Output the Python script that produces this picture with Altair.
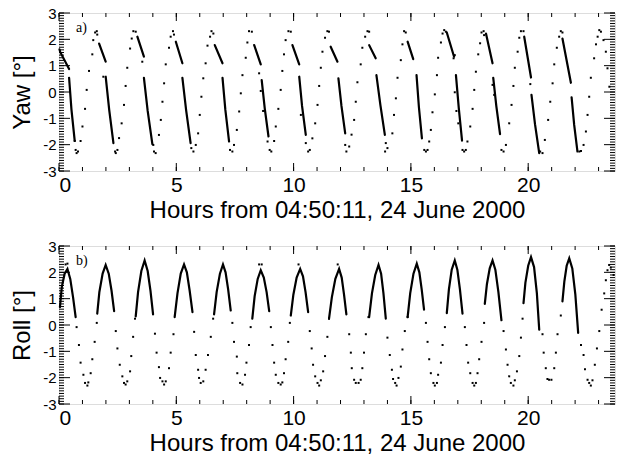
import altair as alt
import pandas as pd

# ---------------- data ----------------
X_DOMAIN = [0, 23.7]
Y_DOMAIN = [-3, 3]
x_major = [0, 5, 10, 15, 20]
x_minor = list(range(0, 24))
y_major = [-3, -2, -1, 0, 1, 2, 3]
y_minor = [round(-3 + 0.1 * i, 1) for i in range(61)]
x_title = "Hours from 04:50:11, 24 June 2000"

# Yaw: dense segments (upper and lower part of each cycle)
yaw_segments = [
    [(0.02, 1.62), (0.05, 1.52), (0.43, 0.87)],
    [(0.43, 0.54), (0.53, -0.66), (0.67, -1.86)],
    [(1.71, 1.84), (1.99, 1.15)],
    [(1.99, 0.58), (2.14, -0.68), (2.32, -1.94)],
    [(3.34, 2.10), (3.62, 1.34)],
    [(3.62, 0.54), (3.78, -0.72), (3.98, -1.98)],
    [(4.98, 1.91), (5.26, 1.09)],
    [(5.26, 0.54), (5.42, -0.70), (5.61, -1.94)],
    [(6.64, 1.78), (6.97, 1.09)],
    [(6.97, 0.54), (7.09, -0.67), (7.25, -1.88)],
    [(8.32, 1.78), (8.60, 1.05)],
    [(8.64, 0.45), (8.77, -0.62), (8.93, -1.69)],
    [(9.95, 1.78), (10.24, 1.05)],
    [(10.24, 0.58), (10.36, -0.53), (10.52, -1.63)],
    [(11.58, 1.72), (11.87, 1.15)],
    [(11.91, 0.52), (12.04, -0.53), (12.20, -1.57)],
    [(13.22, 1.78), (13.50, 1.28)],
    [(13.53, 0.64), (13.70, -0.50), (13.89, -1.63)],
    [(14.86, 1.91), (15.10, 1.25)],
    [(15.24, 0.64), (15.34, -0.56), (15.47, -1.76)],
    [(16.53, 2.26), (16.84, 1.34)],
    [(16.92, 0.64), (17.04, -0.60), (17.18, -1.85)],
    [(18.20, 2.22), (18.48, 1.09)],
    [(18.51, 0.54), (18.64, -0.53), (18.80, -1.60)],
    [(19.83, 2.10), (20.12, 0.55)],
    [(20.14, -0.11), (20.29, -1.22), (20.47, -2.32)],
    [(21.46, 2.03), (21.82, 0.35)],
    [(21.85, -0.20), (21.96, -1.25), (22.10, -2.26)],
]

# Yaw: isolated samples
yaw_dots = [
    (0.67, -1.86), (0.92, -1.86), (0.71, -2.20), (0.81, -2.26), (0.75, -2.32),
    (1.00, -1.31), (1.11, -0.64), (1.18, 0.08), (1.28, 0.80), (1.42, 1.43),
    (1.46, 1.97), (1.54, 2.26), (1.61, 2.31), (1.63, 2.18),
    (1.89, 0.58), (2.39, -2.26), (2.49, -2.20), (2.42, -2.32), (2.56, -1.75),
    (2.67, -1.19), (2.77, -0.49), (2.84, 0.23), (2.91, 0.92), (3.03, 1.65),
    (3.10, 2.03), (3.17, 2.31), (3.27, 2.29),
    (3.55, 1.15), (4.02, -2.01), (4.05, -2.26), (4.12, -2.32), (4.26, -1.63),
    (4.34, -1.06), (4.41, -0.37), (4.48, 0.33), (4.55, 1.05), (4.69, 1.68),
    (4.76, 2.10), (4.86, 2.31), (4.90, 2.18),
    (5.64, -2.13), (5.73, -2.26), (5.83, -2.01), (5.93, -1.57), (6.00, -0.87),
    (6.07, -0.18), (6.15, 0.52), (6.25, 1.09), (6.33, 1.76), (6.44, 2.10),
    (6.50, 2.31), (6.58, 2.22),
    (7.29, -2.20), (7.39, -2.26), (7.46, -2.01), (7.58, -1.44), (7.68, -0.74),
    (7.75, -0.05), (7.82, 0.64), (7.96, 1.30), (8.03, 1.88), (8.10, 2.31),
    (8.22, 2.29),
    (8.53, 0.71), (8.60, 0.04), (8.70, -0.72), (8.89, -1.88), (8.98, -2.20),
    (9.05, -2.26), (9.17, -1.86), (9.24, -1.31), (9.35, -0.64), (9.45, 0.08),
    (9.52, 0.80), (9.59, 1.43), (9.66, 1.97), (9.78, 2.31), (9.88, 2.29),
    (10.31, -0.87), (10.52, -1.94), (10.62, -2.26), (10.69, -2.20), (10.80, -1.76),
    (10.92, -1.19), (11.02, -0.49), (11.09, 0.23), (11.16, 0.92), (11.23, 1.53),
    (11.34, 2.06), (11.44, 2.31), (11.51, 2.29),
    (12.20, -2.01), (12.25, -2.26), (12.37, -2.07), (12.47, -1.62), (12.58, -1.06),
    (12.65, -0.37), (12.72, 0.37), (12.86, 1.05), (12.93, 1.68), (13.05, 2.10),
    (13.15, 2.31), (13.22, 2.29),
    (13.93, -1.94), (13.90, -2.26), (14.00, -2.13), (14.21, -1.57), (14.28, -0.87),
    (14.36, -0.24), (14.43, 0.54), (14.57, 1.21), (14.64, 1.81), (14.71, 2.31),
    (14.78, 2.26),
    (15.57, -2.20), (15.64, -2.26), (15.71, -2.20), (15.78, -1.88), (15.85, -1.44),
    (15.92, -0.77), (16.02, -0.09), (16.11, 0.64), (16.16, 1.30), (16.28, 1.88),
    (16.35, 2.22), (16.42, 2.35), (16.49, 2.29),
    (16.87, 1.40), (16.82, 1.28), (16.87, -0.01), (16.94, -0.72), (17.02, -1.19),
    (17.20, -2.20), (17.27, -2.26), (17.34, -2.20), (17.41, -1.88), (17.53, -1.31),
    (17.63, -0.64), (17.70, 0.08), (17.77, 0.77), (17.87, 1.43), (17.95, 1.85),
    (18.01, 2.26), (18.10, 2.31), (18.12, 2.16),
    (18.48, 0.27), (18.55, -0.11), (18.86, -2.20), (18.95, -2.26), (19.05, -2.01),
    (19.19, -1.19), (19.29, -0.49), (19.37, 0.23), (19.43, 0.92), (19.55, 1.53),
    (19.62, 2.06), (19.69, 2.31), (19.80, 2.31),
    (20.09, 0.30), (20.51, -2.26), (20.61, -2.32), (20.71, -1.82), (20.85, -1.06),
    (20.94, -0.37), (21.04, 0.33), (21.11, 1.05), (21.22, 1.68), (21.32, 2.10),
    (21.39, 2.31), (21.46, 2.26),
    (22.18, -2.26), (22.25, -2.24), (22.36, -2.01), (22.46, -1.50), (22.53, -0.87),
    (22.60, -0.18), (22.67, 0.54), (22.81, 1.28), (22.89, 1.81), (22.96, 2.10),
    (23.03, 2.35), (23.10, 2.29),
    (23.21, 1.97), (23.31, 1.53), (23.38, 0.90), (23.46, 0.20),
]

# Roll: dense arcs
roll_segments = [
    [(0.04, 0.68), (0.12, 1.45), (0.24, 1.95), (0.36, 2.13), (0.48, 1.75), (0.60, 1.05), (0.71, 0.30)],
    [(1.63, 0.43), (1.72, 1.25), (1.86, 1.95), (1.99, 2.28), (2.12, 1.95), (2.24, 1.30), (2.35, 0.53)],
    [(3.27, 0.33), (3.37, 1.25), (3.51, 2.05), (3.65, 2.45), (3.78, 2.05), (3.90, 1.30), (4.01, 0.40)],
    [(4.93, 0.30), (5.05, 1.20), (5.19, 1.95), (5.33, 2.30), (5.45, 2.00), (5.57, 1.30), (5.69, 0.49)],
    [(6.61, 0.40), (6.72, 1.25), (6.86, 1.95), (6.99, 2.30), (7.10, 2.00), (7.21, 1.35), (7.32, 0.55)],
    [(8.24, 0.24), (8.34, 1.10), (8.47, 1.75), (8.60, 2.08), (8.73, 1.80), (8.85, 1.25), (8.96, 0.53)],
    [(9.88, 0.36), (9.99, 1.15), (10.13, 1.80), (10.28, 2.13), (10.40, 1.85), (10.51, 1.25), (10.62, 0.49)],
    [(11.51, 0.24), (11.63, 1.05), (11.78, 1.75), (11.94, 2.13), (12.05, 1.80), (12.15, 1.15), (12.25, 0.40)],
    [(13.22, 0.30), (13.34, 1.20), (13.48, 1.90), (13.62, 2.28), (13.73, 1.95), (13.83, 1.20), (13.93, 0.24)],
    [(14.86, 0.30), (14.97, 1.20), (15.11, 1.95), (15.25, 2.33), (15.36, 2.00), (15.46, 1.35), (15.56, 0.58)],
    [(16.53, 0.45), (16.62, 1.35), (16.74, 2.10), (16.87, 2.45), (16.98, 2.10), (17.09, 1.35), (17.20, 0.43)],
    [(18.15, 0.80), (18.24, 1.55), (18.36, 2.15), (18.48, 2.45), (18.60, 2.10), (18.73, 1.25), (18.86, 0.18)],
    [(19.80, 0.83), (19.88, 1.60), (20.00, 2.25), (20.12, 2.58), (20.25, 2.20), (20.37, 1.20), (20.47, -0.18)],
    [(21.46, 0.90), (21.54, 1.65), (21.64, 2.25), (21.75, 2.53), (21.88, 2.15), (22.01, 1.15), (22.13, -0.30)],
]

# Roll: isolated samples
roll_dots = [
    (0.28, 2.30), (0.36, 2.33), (0.75, -0.08), (0.85, -0.76), (0.92, -1.43),
    (1.04, -1.89), (1.11, -2.20), (1.21, -2.30), (1.25, -2.18), (1.35, -1.83),
    (1.42, -1.30), (1.52, -0.64), (1.61, 0.08),
    (2.42, -0.23), (2.49, -0.89), (2.59, -1.51), (2.70, -1.95), (2.77, -2.20),
    (2.84, -2.26), (2.91, -2.14), (3.03, -1.76), (3.08, -1.18), (3.16, -0.45),
    (3.24, 0.24),
    (4.09, -0.33), (4.16, -1.05), (4.26, -1.60), (4.31, -2.01), (4.41, -2.14),
    (4.48, -2.26), (4.55, -2.14), (4.69, -1.64), (4.76, -1.05), (4.88, -0.35),
    (5.76, -0.26), (5.83, -1.14), (5.93, -1.70), (5.97, -2.01), (6.04, -2.20),
    (6.15, -2.14), (6.25, -1.70), (6.35, -1.14), (6.47, -0.45), (6.57, 0.24),
    (7.39, 0.08), (7.46, -0.64), (7.58, -1.20), (7.60, -1.83), (7.72, -2.20),
    (7.82, -2.26), (7.93, -1.89), (7.99, -1.43), (8.10, -0.76), (8.17, -0.08),
    (8.53, 2.30), (8.64, 2.30), (9.03, -0.08), (9.10, -0.76), (9.17, -1.43),
    (9.24, -1.89), (9.35, -2.20), (9.45, -2.26), (9.52, -2.18), (9.59, -1.83),
    (9.66, -1.30), (9.77, -0.64), (9.84, 0.08),
    (10.21, 2.30), (10.69, -0.23), (10.77, -0.89), (10.83, -1.51), (10.92, -1.95),
    (11.02, -2.20), (11.09, -2.30), (11.16, -2.10), (11.26, -1.76), (11.34, -1.18),
    (11.44, -0.45), (11.51, 0.24),
    (11.88, 2.30), (12.37, -0.35), (12.44, -1.05), (12.48, -1.64), (12.58, -2.08),
    (12.65, -2.20), (12.77, -2.20), (12.86, -2.08), (12.93, -1.64), (13.00, -1.05),
    (13.08, -0.35), (13.19, 0.30),
    (14.00, -0.48), (14.10, -1.14), (14.19, -1.70), (14.24, -2.05), (14.33, -2.20),
    (14.39, -2.30), (14.47, -2.01), (14.57, -1.58), (14.64, -0.93), (14.74, -0.23),
    (14.86, 0.30),
    (15.64, 0.08), (15.71, -0.64), (15.78, -1.30), (15.85, -1.83), (15.96, -2.20),
    (16.02, -2.30), (16.11, -2.20), (16.16, -1.89), (16.28, -1.43), (16.35, -0.76),
    (16.45, -0.08),
    (17.30, -0.08), (17.37, -0.76), (17.44, -1.43), (17.53, -1.83), (17.63, -2.20),
    (17.70, -2.30), (17.77, -2.20), (17.84, -1.83), (17.91, -1.30), (18.01, -0.64),
    (18.12, 0.08),
    (18.95, -0.23), (19.05, -0.93), (19.12, -1.51), (19.19, -1.95), (19.26, -2.20),
    (19.37, -2.30), (19.43, -2.10), (19.52, -1.76), (19.62, -1.18), (19.69, -0.48),
    (19.76, 0.24),
    (20.61, -0.35), (20.66, -1.05), (20.75, -1.64), (20.82, -2.05), (20.89, -2.08),
    (20.99, -2.08), (21.11, -1.64), (21.18, -1.05), (21.25, -0.35), (21.39, 0.36),
    (22.25, -0.76), (22.36, -1.14), (22.42, -1.68), (22.53, -2.08), (22.60, -2.20),
    (22.67, -2.30), (22.74, -2.10), (22.84, -1.51), (22.93, -0.89), (23.03, -0.23),
    (23.13, 0.58), (23.24, 1.20), (23.31, 1.70), (23.38, 2.08), (23.45, 2.28),
    (23.52, 2.18), (23.64, 1.90),
]

# ---------------- chart ----------------
W, H = 556, 158
FONT = "Liberation Sans"


def seg_frame(segs):
    rows = []
    for sid, seg in enumerate(segs):
        for i, (x, y) in enumerate(seg):
            rows.append({"seg": sid, "i": i, "x": x, "y": y})
    return pd.DataFrame(rows)


def dot_frame(dots):
    return pd.DataFrame(dots, columns=["x", "y"])


def panel(dots, segs, ytitle, tag):
    xs = alt.Scale(domain=X_DOMAIN, nice=False, zero=False)
    ys = alt.Scale(domain=Y_DOMAIN, nice=False, zero=False)
    xaxis = alt.Axis(values=x_major, labelExpr="'' + datum.value", ticks=False, domain=False, grid=False,
                     labelFontSize=21, labelPadding=3, labelFont=FONT, labelColor="black",
                     title=x_title, titleFontSize=24, titleFont=FONT, titleFontWeight="normal",
                     titleColor="black", titlePadding=3)
    yaxis = alt.Axis(values=y_major, labelExpr="'' + datum.value", ticks=False, domain=False, grid=False,
                     labelFontSize=15, labelPadding=3, labelFont=FONT, labelColor="black",
                     title=ytitle, titleFontSize=24, titleFont=FONT, titleFontWeight="normal",
                     titleColor="black", titlePadding=8)
    X = lambda f: alt.X(f, scale=xs, axis=xaxis, title=x_title)
    Y = lambda f: alt.Y(f, scale=ys, axis=yaxis, title=ytitle)

    pts = alt.Chart(dot_frame(dots)).mark_square(size=4, color="black", opacity=1).encode(
        x=X("x:Q"), y=Y("y:Q"),
    )
    lines = alt.Chart(seg_frame(segs)).mark_line(color="black", strokeWidth=2.2, strokeCap="round").encode(
        x=X("x:Q"), y=Y("y:Q"), detail="seg:N", order="i:Q",
    )
    ymin = pd.DataFrame({"v": y_minor})
    ymaj = pd.DataFrame({"v": y_major})
    xmin = pd.DataFrame({"v": x_minor})
    xmaj = pd.DataFrame({"v": x_major})
    rk = dict(color="black", strokeWidth=1)
    ytick = lambda df, a, b: alt.Chart(df).mark_rule(**rk).encode(
        y=Y("v:Q"), x=alt.value(a), x2=alt.value(b))
    xtick = lambda df, a, b: alt.Chart(df).mark_rule(**rk).encode(
        x=X("v:Q"), y=alt.value(a), y2=alt.value(b))
    ticks = [
        ytick(ymin, 0, 5), ytick(ymin, W, W - 5),
        ytick(ymaj, 0, 11), ytick(ymaj, W, W - 11),
        xtick(xmin, H, H - 4), xtick(xmin, 0, 4),
        xtick(xmaj, H, H - 8), xtick(xmaj, 0, 8),
    ]
    label = alt.Chart(pd.DataFrame({"t": [tag]})).mark_text(
        align="left", baseline="alphabetic", font="Liberation Serif", fontSize=14, color="black"
    ).encode(text="t:N", x=alt.value(17), y=alt.value(19))
    return alt.layer(pts, lines, *ticks, label).properties(width=W, height=H)


top = panel(yaw_dots, yaw_segments, "Yaw [°]", "a)")
bottom = panel(roll_dots, roll_segments, "Roll [°]", "b)")

chart = alt.vconcat(top, bottom, spacing=75).properties(
    bounds="flush",
    padding={"left": 10, "top": 5, "right": 0, "bottom": 0},
).configure_view(stroke="black", strokeWidth=1).configure(background="white")

chart.save("out.html", embed_options={"renderer": "svg", "actions": False})
